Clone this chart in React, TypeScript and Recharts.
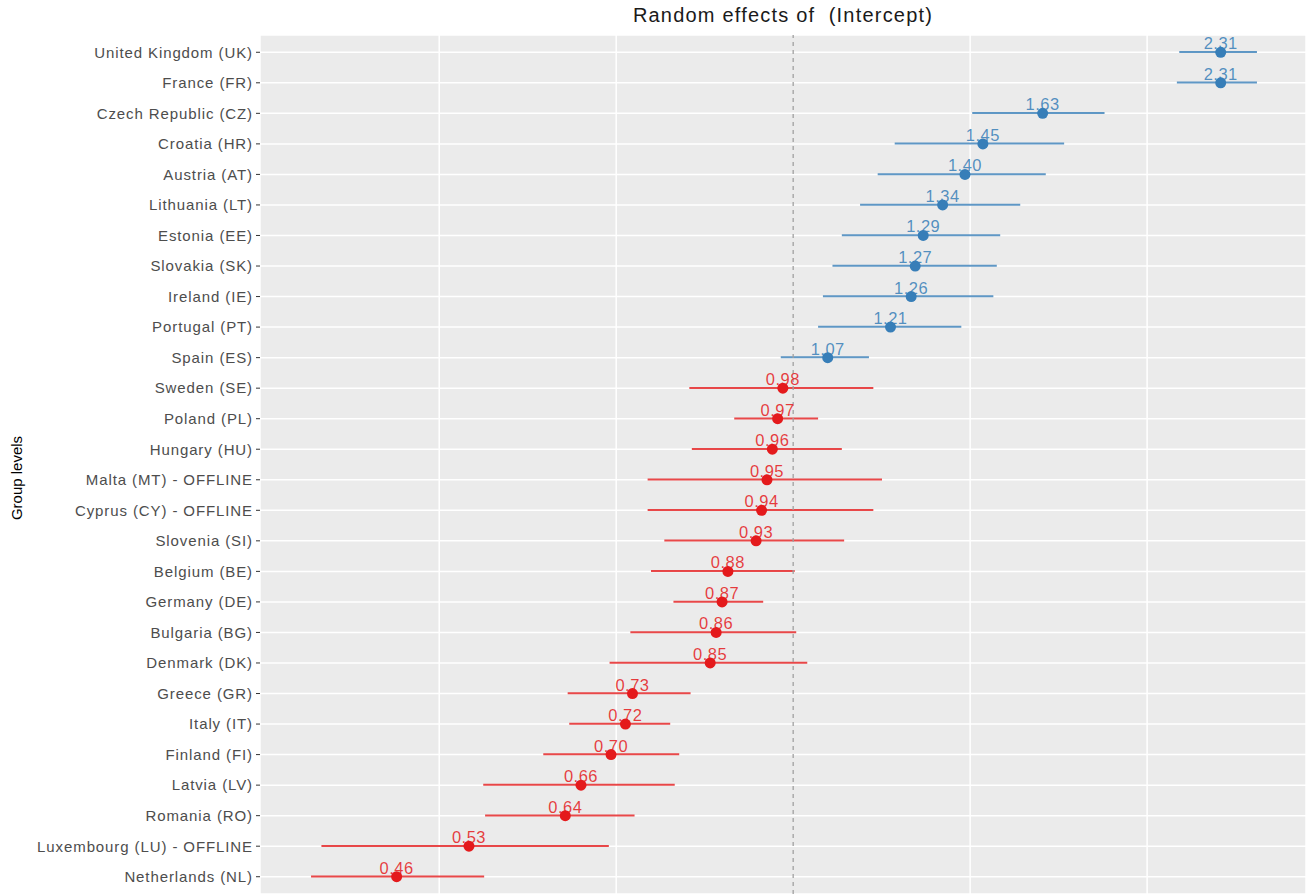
import { ComposedChart, Bar, Line, XAxis, YAxis, CartesianGrid, ReferenceLine, Cell } from 'recharts';

const countries = [
  'United Kingdom (UK)', 'France (FR)', 'Czech Republic (CZ)', 'Croatia (HR)', 'Austria (AT)',
  'Lithuania (LT)', 'Estonia (EE)', 'Slovakia (SK)', 'Ireland (IE)', 'Portugal (PT)', 'Spain (ES)',
  'Sweden (SE)', 'Poland (PL)', 'Hungary (HU)', 'Malta (MT) - OFFLINE', 'Cyprus (CY) - OFFLINE',
  'Slovenia (SI)', 'Belgium (BE)', 'Germany (DE)', 'Bulgaria (BG)', 'Denmark (DK)', 'Greece (GR)',
  'Italy (IT)', 'Finland (FI)', 'Latvia (LV)', 'Romania (RO)', 'Luxembourg (LU) - OFFLINE', 'Netherlands (NL)',
];

const estimates = [
  2.31, 2.31, 1.63, 1.45, 1.40, 1.34, 1.29, 1.27, 1.26, 1.21, 1.07,
  0.98, 0.97, 0.96, 0.95, 0.94, 0.93, 0.88, 0.87, 0.86, 0.85, 0.73,
  0.72, 0.70, 0.66, 0.64, 0.53, 0.46,
];

const lower = [
  2.13, 2.12, 1.42, 1.22, 1.18, 1.14, 1.10, 1.08, 1.06, 1.05, 0.976,
  0.816, 0.891, 0.820, 0.752, 0.752, 0.777, 0.757, 0.791, 0.727, 0.698, 0.643,
  0.645, 0.613, 0.545, 0.547, 0.397, 0.389,
];

const upper = [
  2.48, 2.48, 1.84, 1.70, 1.64, 1.56, 1.50, 1.49, 1.48, 1.39, 1.16,
  1.17, 1.05, 1.10, 1.19, 1.17, 1.105, 1.003, 0.943, 1.006, 1.028, 0.818,
  0.786, 0.80, 0.793, 0.733, 0.697, 0.546,
];

const gridTicks = [0.5, 0.7071, 1.4142, 2];

const BLUE = '#377EB8';
const RED = '#E41A1C';
const FONT = "'Liberation Sans', Arial, sans-serif";

const data = countries.map((name, i) => ({
  name,
  est: estimates[i],
  ci: [lower[i], upper[i]],
}));

const colorOf = (v: number) => (v > 1 ? BLUE : RED);

const renderDot = (props: any) => {
  const { cx, cy, payload, index } = props;
  if (cx == null || cy == null) return <g key={`d-${index}`} />;
  return <circle key={`d-${index}`} cx={cx} cy={cy} r={5.5} fill={colorOf(payload.est)} />;
};

const renderLabel = (props: any) => {
  const { x, y, value, index } = props;
  return (
    <text
      key={`l-${index}`}
      x={x}
      y={y - 3}
      textAnchor="middle"
      fontSize={16.5}
      letterSpacing={0.5}
      fontFamily={FONT}
      fill={colorOf(value)}
      fillOpacity={0.85}
    >
      {Number(value).toFixed(2)}
    </text>
  );
};

const GroupLabel = () => (
  <text
    x={22}
    y={478}
    transform="rotate(-90 22 478)"
    textAnchor="middle"
    fontSize={15}
    fontFamily={FONT}
    fill="#000"
  >
    Group levels
  </text>
);

export default function App() {
  return (
    <div style={{ position: 'absolute', left: 0, top: 0, width: 1306, height: 894, background: '#fff' }}>
      <div
        style={{
          position: 'absolute',
          left: 260,
          width: 1046,
          top: 4,
          textAlign: 'center',
          whiteSpace: 'pre',
          fontFamily: FONT,
          fontSize: 20,
          letterSpacing: 1.2,
          color: '#1a1a1a',
        }}
      >
        Random effects of  (Intercept)
      </div>
      <ComposedChart
        width={1306}
        height={894}
        data={data}
        layout="vertical"
        margin={{ top: 35, right: 0, bottom: 0, left: 0 }}
        style={{ position: 'absolute', left: 0, top: 0 }}
      >
        <CartesianGrid fill="#EBEBEB" stroke="#FFFFFF" strokeWidth={1.5} />
        <XAxis
          type="number"
          scale="log"
          domain={[0.352, 2.73]}
          allowDataOverflow
          ticks={gridTicks}
          interval={0}
          height={0}
          tick={() => <g />}
          axisLine={false}
          tickLine={false}
        />
        <YAxis
          type="category"
          dataKey="name"
          width={260}
          padding={{ top: 2, bottom: 2 }}
          axisLine={false}
          tickSize={4}
          tickMargin={3}
          tickLine={{ stroke: '#333333' }}
          tick={{ fontSize: 15, letterSpacing: 0.9, fill: '#4D4D4D', fontFamily: FONT }}
          interval={0}
          label={{ content: GroupLabel }}
        />
        <ReferenceLine x={1} stroke="#A0A0A0" strokeDasharray="4 4" strokeWidth={1.3} />
        <Bar dataKey="ci" barSize={2} isAnimationActive={false}>
          {data.map((d, i) => (
            <Cell key={i} fill={colorOf(d.est)} fillOpacity={0.8} />
          ))}
        </Bar>
        <Line
          dataKey="est"
          stroke="none"
          dot={renderDot}
          activeDot={false}
          label={renderLabel}
          isAnimationActive={false}
        />
      </ComposedChart>
    </div>
  );
}
